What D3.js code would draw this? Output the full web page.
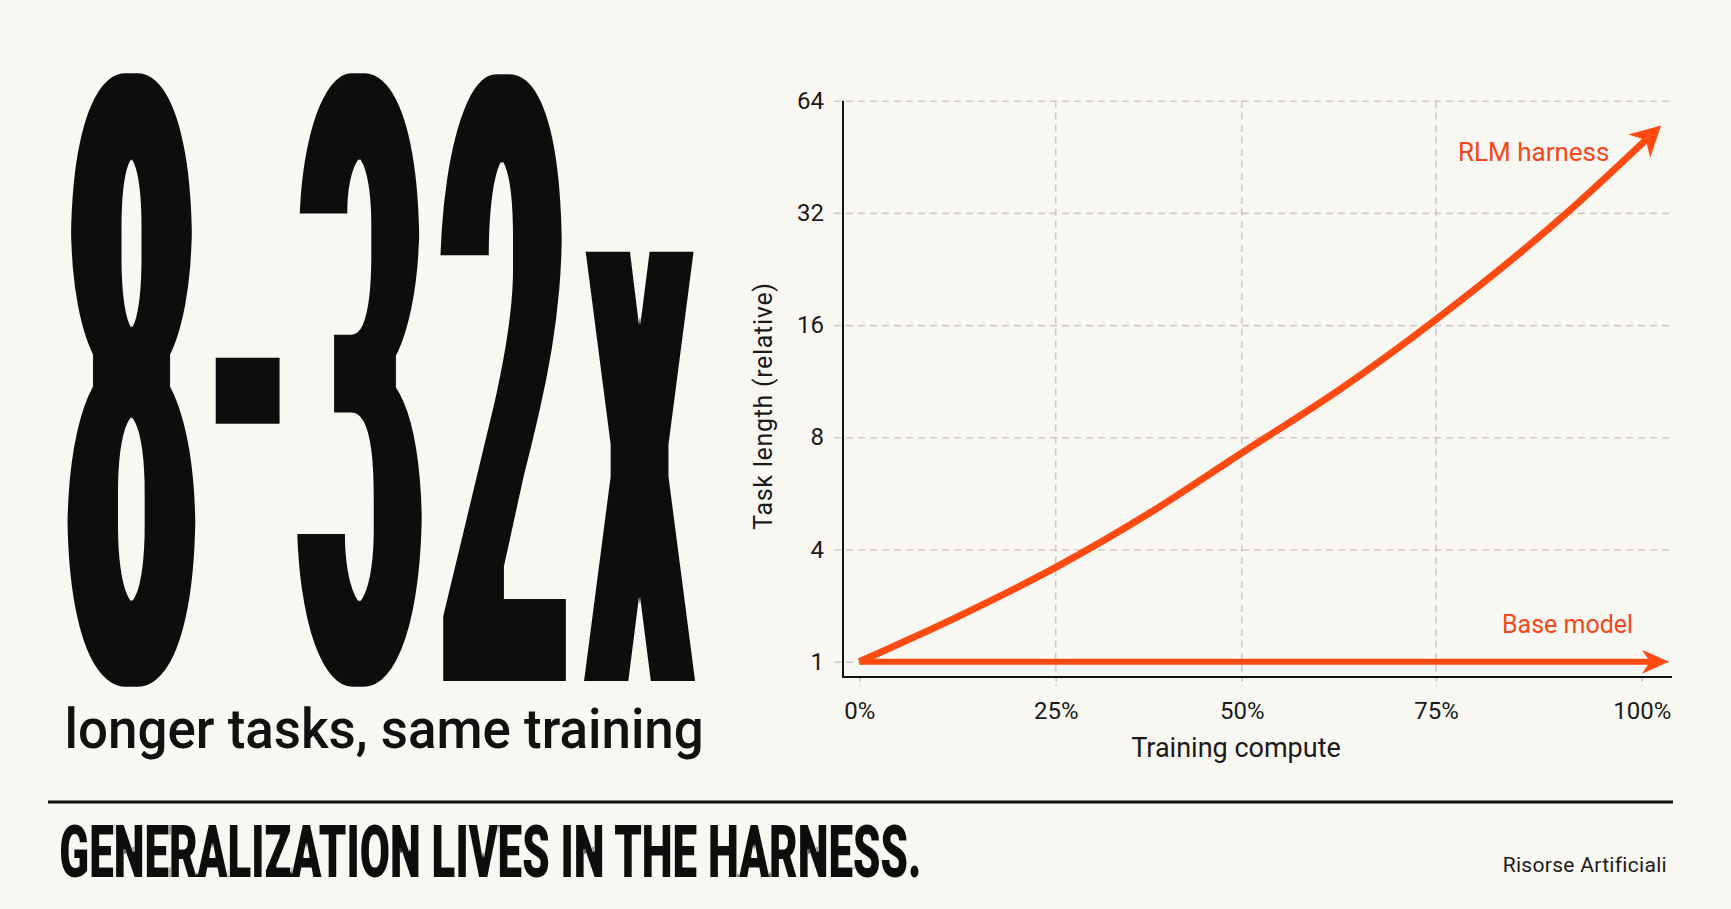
<!DOCTYPE html>
<html>
<head>
<meta charset="utf-8">
<script src="https://cdn.jsdelivr.net/npm/d3@7"></script>
<style>
  html, body { margin: 0; padding: 0; background: #f9f7f2; }
  svg { display: block; }
</style>
</head>
<body>
<div id="chart"></div>
<script>
// tick values
const xTicks = [0, 25, 50, 75, 100];
const xTickPos = [859.3, 1055.7, 1241.7, 1436, 1641.7];   // the picture's gridlines are not evenly spaced
const yTickLabels = ["1", "4", "8", "16", "32", "64"];

// series, y read as position on the tick ladder (0 = "1" ... 5 = "64")
const rlmCompute = [0, 12.5, 25, 37.5, 50, 62.5, 75, 90.9, 100.5];
const rlmLevel = [0, 0.40, 0.84, 1.32, 1.86, 2.42, 3.05, 4.0, 4.65];
const baseCompute = [0, 101];
const baseLevel = [0, 0];

const W = 1731, H = 909;
const orange = "#ff4a12";
const ink = "#111111";

const svg = d3.select("#chart")
    .append("svg")
    .attr("width", W)
    .attr("height", H);

svg.append("rect")
    .attr("width", W)
    .attr("height", H)
    .attr("fill", "#f9f7f2");

const defs = svg.append("defs");

// heavy condensed look: squeeze the glyphs, then fatten the stems in screen space
function addFatFilter(id, rx, ry) {
    const f = defs.append("filter")
        .attr("id", id)
        .attr("filterUnits", "userSpaceOnUse")
        .attr("x", 0).attr("y", 0).attr("width", W).attr("height", H);
    f.append("feMorphology")
        .attr("in", "SourceGraphic")
        .attr("operator", "dilate")
        .attr("radius", rx + " 0.5")
        .attr("result", "wide");
    f.append("feMorphology")
        .attr("in", "wide")
        .attr("operator", "erode")
        .attr("radius", "0.5 " + ry);
}
const bigRx = 7, bigRy = 16;
addFatFilter("fatBig", bigRx, bigRy);
addFatFilter("fatHead", 1, 0.5);

const ctx = document.createElement("canvas").getContext("2d");

// fit a string's ink box into [x0,x1]x[y0,y1], leaving room for the filter growth
function fitText(parent, txt, family, weight, box, rx, ry) {
    const F = 200;
    ctx.font = weight + " " + F + "px " + family;
    const m = ctx.measureText(txt);
    const l = -m.actualBoundingBoxLeft, r = m.actualBoundingBoxRight;
    const t = -m.actualBoundingBoxAscent, b = m.actualBoundingBoxDescent;
    const x0 = box[0] + rx, x1 = box[1] - rx;
    const y0 = box[2] - ry, y1 = box[3] + ry;
    const sx = (x1 - x0) / (r - l);
    const sy = (y1 - y0) / (b - t);
    return parent.append("text")
        .attr("font-family", family)
        .attr("font-weight", weight)
        .attr("font-size", F)
        .attr("fill", ink)
        .attr("transform", "translate(" + (x0 - l * sx) + "," + (y0 - t * sy) + ") scale(" + sx + "," + sy + ")")
        .text(txt);
}

// big number, one glyph at a time
const bigGlyphs = ["8", "-", "3", "2", "x"];
const bigBoxes = [
    [66, 197, 71, 686],
    [214, 281, 355, 421],
    [295, 424, 71, 686],
    [438, 568, 72, 680],
    [579, 701, 247, 680]
];
const big = svg.append("g").attr("filter", "url(#fatBig)");
bigGlyphs.forEach((g, i) => fitText(big, g, "Roboto", 900, bigBoxes[i], bigRx, bigRy));

fitText(svg, "longer tasks, same training", "Roboto", 500, [68, 701, 706, 760], 0, 0);

const head = svg.append("g").attr("filter", "url(#fatHead)");
fitText(head, "GENERALIZATION LIVES IN THE HARNESS.", "Roboto", 900, [60, 921, 825, 877], 1, 0.5);

svg.append("line")
    .attr("x1", 48).attr("x2", 1673)
    .attr("y1", 802).attr("y2", 802)
    .attr("stroke", ink)
    .attr("stroke-width", 3);

svg.append("text")
    .attr("x", 1667)
    .attr("y", 872)
    .attr("text-anchor", "end")
    .attr("font-family", "Roboto")
    .attr("font-size", 21)
    .attr("letter-spacing", 0.3)
    .attr("fill", "#1a1a1a")
    .text("Risorse Artificiali");

// chart
const x = d3.scaleLinear().domain(xTicks).range(xTickPos);
const y = d3.scaleLinear().domain([0, yTickLabels.length - 1]).range([661.7, 100.7]);
const axisY = 677, axisX = 843, plotRight = 1672;

const gridColor = "#cfcbc4";

const yAxis = svg.append("g")
    .attr("transform", "translate(834,0)")
    .call(d3.axisLeft(y)
        .tickValues(d3.range(yTickLabels.length))
        .tickFormat(i => yTickLabels[i])
        .tickSize(-(plotRight - 834))
        .tickPadding(10));
yAxis.select(".domain").remove();
yAxis.selectAll(".tick line")
    .attr("stroke", gridColor)
    .attr("stroke-width", 1.6)
    .attr("stroke-dasharray", "7 5");
yAxis.selectAll(".tick text")
    .attr("font-family", "Roboto")
    .attr("font-size", 24)
    .attr("fill", "#1a1a1a");

svg.append("g")
    .selectAll("line")
    .data(xTicks.filter(d => d > 0 && d < 100))
    .join("line")
    .attr("x1", d => x(d)).attr("x2", d => x(d))
    .attr("y1", y(yTickLabels.length - 1)).attr("y2", axisY)
    .attr("stroke", gridColor)
    .attr("stroke-width", 1.6)
    .attr("stroke-dasharray", "7 5");

const xAxis = svg.append("g")
    .attr("transform", "translate(0," + axisY + ")")
    .call(d3.axisBottom(x)
        .tickValues(xTicks)
        .tickFormat(d => d + "%")
        .tickSize(9)
        .tickPadding(16));
xAxis.select(".domain").remove();
xAxis.selectAll(".tick line")
    .attr("stroke", gridColor)
    .attr("stroke-width", 1.6)
    .attr("stroke-dasharray", "5 3");
xAxis.selectAll(".tick text")
    .attr("font-family", "Roboto")
    .attr("font-size", 24)
    .attr("fill", "#1a1a1a");

svg.append("line")
    .attr("x1", axisX).attr("x2", axisX)
    .attr("y1", y(yTickLabels.length - 1)).attr("y2", axisY + 1)
    .attr("stroke", ink).attr("stroke-width", 2);
svg.append("line")
    .attr("x1", axisX - 1).attr("x2", plotRight)
    .attr("y1", axisY).attr("y2", axisY)
    .attr("stroke", ink).attr("stroke-width", 2);

// arrow heads
function addArrow(id, len, back, half) {
    defs.append("marker")
        .attr("id", id)
        .attr("markerUnits", "userSpaceOnUse")
        .attr("viewBox", (-back - 2) + " " + (-half - 2) + " " + (len + back + 4) + " " + (2 * half + 4))
        .attr("markerWidth", len + back + 4)
        .attr("markerHeight", 2 * half + 4)
        .attr("refX", 0).attr("refY", 0)
        .attr("orient", "auto")
        .append("path")
        .attr("d", "M" + len + ",0L" + (-back) + "," + (-half) + "L0,0L" + (-back) + "," + half + "Z")
        .attr("fill", orange);
}
addArrow("arrowRlm", 21, 9, 16);
addArrow("arrowBase", 19, 8, 12);

const line = d3.line()
    .x(d => x(d[0]))
    .y(d => y(d[1]))
    .curve(d3.curveMonotoneX);

svg.append("path")
    .datum(d3.zip(baseCompute, baseLevel))
    .attr("d", line)
    .attr("fill", "none")
    .attr("stroke", orange)
    .attr("stroke-width", 6)
    .attr("marker-end", "url(#arrowBase)");

svg.append("path")
    .datum(d3.zip(rlmCompute, rlmLevel))
    .attr("d", line)
    .attr("fill", "none")
    .attr("stroke", orange)
    .attr("stroke-width", 7)
    .attr("marker-end", "url(#arrowRlm)");

svg.append("text")
    .attr("x", 1458).attr("y", 161)
    .attr("font-family", "Roboto")
    .attr("font-size", 26)
    .attr("fill", "#f2471a")
    .text("RLM harness");

svg.append("text")
    .attr("x", 1502).attr("y", 633)
    .attr("font-family", "Roboto")
    .attr("font-size", 25)
    .attr("fill", "#f2471a")
    .text("Base model");

svg.append("text")
    .attr("x", 1236).attr("y", 757)
    .attr("text-anchor", "middle")
    .attr("font-family", "Roboto")
    .attr("font-size", 27)
    .attr("fill", "#1a1a1a")
    .text("Training compute");

svg.append("text")
    .attr("transform", "translate(772,406) rotate(-90)")
    .attr("text-anchor", "middle")
    .attr("font-family", "Roboto")
    .attr("font-size", 25)
    .attr("letter-spacing", 0.7)
    .attr("fill", "#1a1a1a")
    .text("Task length (relative)");
</script>
</body>
</html>
